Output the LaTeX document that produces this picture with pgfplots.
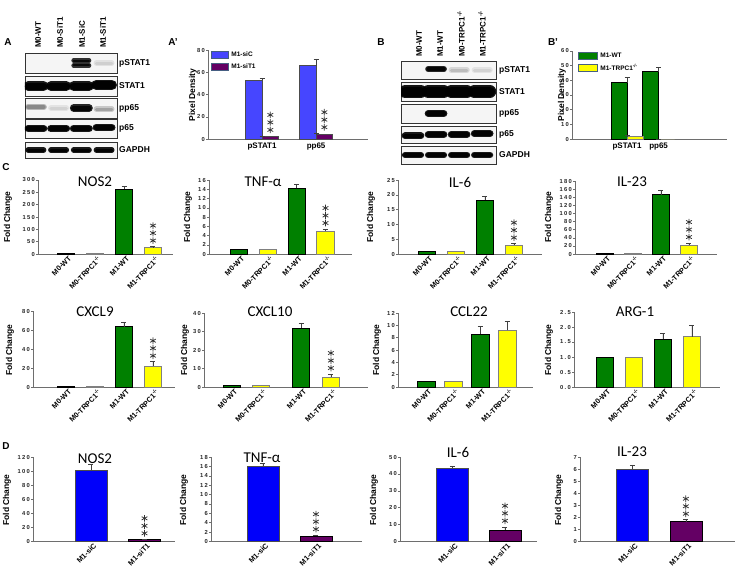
\documentclass[border=0pt]{standalone}
\usepackage{fontspec}
\setmainfont{Liberation Sans}
\newfontfamily\calib{Carlito}
\newfontfamily\tkf[LetterSpace=22]{Liberation Sans}
\usepackage{pgfplots}
\pgfplotsset{compat=1.18}
\definecolor{cgreen}{RGB}{0,128,0}
\definecolor{cyellow}{RGB}{255,255,0}
\definecolor{cblue}{RGB}{0,0,250}
\definecolor{cblueA}{RGB}{70,70,255}
\definecolor{cpurple}{RGB}{100,0,100}
\definecolor{axgray}{RGB}{110,110,110}
\definecolor{lgframe}{RGB}{70,95,130}
\pgfplotsset{
  base/.style={scale only axis, anchor=south west, axis lines*=left,
    axis line style={axgray, line width=0.7pt}, ymin=0,
    tick align=outside, major tick length=2pt,
    xtick style={draw=none}, ytick style={axgray, line width=0.5pt},
    yticklabel style={font=\tkf\bfseries\fontsize{5.8}{6}\selectfont, inner sep=1pt, text=black!85},
    /pgf/number format/assume math mode=true,
    xticklabel style={inner sep=1pt, font=\bfseries\fontsize{7.3}{8}\selectfont},
    clip=false},
  rot/.style={xticklabel style={rotate=45, anchor=north east, xshift=3pt}},
  catC/.style={base, rot, xtick={1,2,3,4},
    xticklabels={M0-WT, M0-TRPC1\textsuperscript{-/-}, M1-WT, M1-TRPC1\textsuperscript{-/-}}},
  catD/.style={base, rot, height=84.5pt, xtick={1,2}, xticklabels={M1-siC,M1-siT1}},
  eb/.style={/pgfplots/error bars/y dir=plus, /pgfplots/error bars/y explicit,
    /pgfplots/error bars/error bar style={black!75, line width=0.6pt},
    /pgfplots/error bars/error mark options={black!75, rotate=90, mark size=2.5pt, line width=0.6pt}},
  barC/.style={ybar, bar width=17.5pt, bar shift=0pt},
  barD/.style={ybar, bar width=32pt, bar shift=0pt},
  gr/.style={fill=cgreen, draw=black, line width=0.6pt},
  ye/.style={fill=cyellow, draw=gray, line width=0.6pt},
  bl/.style={fill=cblue, draw=gray!60!black, line width=0.6pt},
  pu/.style={fill=cpurple, draw=black, line width=0.6pt},
  blot/.style={scale only axis, anchor=south west, ymin=0, ymax=1, ticks=none,
    axis line style={black!80, line width=0.8pt}, axis background/.style={fill=gray!8}},
  blotA/.style={blot, width=92pt, xmin=0.52, xmax=4.57},
  blotB/.style={blot, width=95pt, xmin=0.48, xmax=4.6},
  st/.style={only marks, mark=asterisk, mark size=3.3pt, color=black!80, line width=0.75pt, forget plot},
}
% significance stars drawn as pgfplots asterisk marks above the error bar
\newcommand\stars[3][0pt]{%
  \addplot[st, mark options={xshift=#1, yshift=6pt}] coordinates {(#2,#3)};
  \addplot[st, mark options={xshift=#1, yshift=13.5pt}] coordinates {(#2,#3)};
  \addplot[st, mark options={xshift=#1, yshift=21pt}] coordinates {(#2,#3)};}
\newcommand\band[5]{%
  \addplot[black, line width=#4+2.5pt, draw opacity=#5, line cap=round, forget plot] coordinates {(#1,#3) (#2,#3)};
  \addplot[black, line width=#4, draw opacity=#5, line cap=round, forget plot] coordinates {(#1,#3) (#2,#3)};}
\tikzset{
  ttl/.style={font=\calib\fontsize{15}{16}\selectfont, anchor=center, inner sep=0pt},
  ylab/.style={rotate=90, font=\bfseries\fontsize{8.5}{9}\selectfont, anchor=center, inner sep=0pt},
  plab/.style={font=\bfseries\fontsize{10}{11}\selectfont, anchor=center, inner sep=0pt},
  rlab/.style={font=\bfseries\fontsize{8.5}{9}\selectfont, anchor=west, inner sep=0pt},
  llab/.style={font=\bfseries\fontsize{8}{9}\selectfont, rotate=90, anchor=west, inner sep=0pt},
}
\begin{document}
\begin{tikzpicture}
\useasboundingbox (0pt,0pt) rectangle (739pt,-574pt);
% ---------------- panel letters
\node[plab] at (8pt,-42pt) {A};
\node[plab] at (173pt,-42pt) {A’};
\node[plab] at (381pt,-42pt) {B};
\node[plab] at (553pt,-42pt) {B’};
\node[plab] at (6pt,-167pt) {C};
\node[plab] at (6pt,-446pt) {D};
% ---------------- blot A
\node[llab] at (38pt,-48pt) {M0-WT};
\node[llab] at (60pt,-48pt) {M0-SiT1};
\node[llab] at (82pt,-48pt) {M1-SiC};
\node[llab] at (103pt,-48pt) {M1-SiT1};
\begin{axis}[blotA, at={(25pt,-73pt)}, height=20pt]
\band{2.66}{3.34}{0.38}{2pt}{0.8}
\band{2.66}{3.34}{0.62}{2pt}{0.8}
\band{3.66}{4.34}{0.5}{3pt}{0.08}
\end{axis}
\begin{axis}[blotA, at={(25pt,-96pt)}, height=20pt]
\band{0.66}{1.34}{0.5}{7pt}{0.9}
\band{1.66}{2.34}{0.5}{7pt}{0.9}
\band{2.66}{3.34}{0.5}{7pt}{0.9}
\band{3.66}{4.34}{0.55}{8pt}{0.9}
\end{axis}
\begin{axis}[blotA, at={(25pt,-118pt)}, height=20pt]
\band{0.66}{1.34}{0.55}{4pt}{0.25}
\band{1.66}{2.34}{0.5}{3pt}{0.07}
\band{2.66}{3.34}{0.5}{5pt}{0.85}
\band{3.66}{4.34}{0.45}{3pt}{0.18}
\end{axis}
\begin{axis}[blotA, at={(25pt,-138pt)}, height=19pt]
\band{0.66}{1.34}{0.5}{5pt}{0.9}
\band{1.66}{2.34}{0.5}{5pt}{0.9}
\band{2.66}{3.34}{0.5}{5pt}{0.9}
\band{3.66}{4.34}{0.55}{5pt}{0.9}
\end{axis}
\begin{axis}[blotA, at={(25pt,-158pt)}, height=16pt]
\band{0.66}{1.34}{0.5}{3pt}{0.9}
\band{1.66}{2.34}{0.5}{3pt}{0.9}
\band{2.66}{3.34}{0.5}{3pt}{0.9}
\band{3.66}{4.34}{0.5}{3pt}{0.9}
\end{axis}
\node[rlab] at (119pt,-63pt) {pSTAT1};
\node[rlab] at (119pt,-86pt) {STAT1};
\node[rlab] at (119pt,-108pt) {pp65};
\node[rlab] at (119pt,-128.5pt) {p65};
\node[rlab] at (119pt,-150pt) {GAPDH};
% ---------------- blot B
\node[llab] at (419pt,-57pt) {M0-WT};
\node[llab] at (440pt,-57pt) {M1-WT};
\node[llab] at (461pt,-57pt) {M0-TRPC1\textsuperscript{-/-}};
\node[llab] at (482pt,-57pt) {M1-TRPC1\textsuperscript{-/-}};
\begin{axis}[blotB, at={(401pt,-79pt)}, height=18pt]
\band{1.66}{2.34}{0.55}{3.5pt}{0.85}
\band{2.66}{3.34}{0.5}{3pt}{0.12}
\band{3.66}{4.34}{0.5}{3pt}{0.07}
\end{axis}
\begin{axis}[blotB, at={(401pt,-101pt)}, height=19pt]
\band{0.66}{1.34}{0.5}{10pt}{0.92}
\band{1.66}{2.34}{0.5}{10pt}{0.92}
\band{2.66}{3.34}{0.5}{10pt}{0.92}
\band{3.66}{4.34}{0.5}{10pt}{0.92}
\end{axis}
\begin{axis}[blotB, at={(401pt,-123pt)}, height=19pt]
\band{1.66}{2.34}{0.5}{4.5pt}{0.9}
\end{axis}
\begin{axis}[blotB, at={(401pt,-143pt)}, height=17pt]
\band{0.66}{1.34}{0.42}{4.5pt}{0.9}
\band{1.66}{2.34}{0.5}{4.5pt}{0.9}
\band{2.66}{3.34}{0.5}{4.5pt}{0.9}
\band{3.66}{4.34}{0.55}{4.5pt}{0.9}
\end{axis}
\begin{axis}[blotB, at={(401pt,-164pt)}, height=18pt]
\band{0.66}{1.34}{0.5}{4pt}{0.9}
\band{1.66}{2.34}{0.5}{4pt}{0.9}
\band{2.66}{3.34}{0.5}{4pt}{0.9}
\band{3.66}{4.34}{0.5}{4pt}{0.9}
\end{axis}
\node[rlab] at (499pt,-70pt) {pSTAT1};
\node[rlab] at (499pt,-91.5pt) {STAT1};
\node[rlab] at (499pt,-113.5pt) {pp65};
\node[rlab] at (499pt,-134.5pt) {p65};
\node[rlab] at (499pt,-155pt) {GAPDH};
% ---------------- A'
\node[ylab] at (193pt,-95pt) {Pixel Density};
\begin{axis}[base, at={(208pt,-139pt)}, width=160pt, height=89pt, xmin=0, xmax=2.96,
  ymax=80, ytick={0,20,...,80}, xtick={1,2}, xticklabels={pSTAT1,pp65},
  xticklabel style={anchor=north, inner sep=2pt, font=\bfseries\fontsize{8}{9}\selectfont},
  legend style={at={(axis description cs:0.02,1.0)}, anchor=north west, draw=none, fill=none,
    inner sep=0pt, font=\bfseries\fontsize{6.5}{7}\selectfont, legend cell align=left, row sep=1.5pt},
  legend image code/.code={\draw[#1, draw=lgframe, line width=1pt] (0pt,-3pt) rectangle (17pt,3.5pt);}]
\addplot[ybar, bar width=16.5pt, bar shift=-8.25pt, fill=cblueA, draw=black!70, line width=0.6pt, eb]
  coordinates {(1,53) +- (0,1.5) (2,66) +- (0,6)};
\addplot[ybar, bar width=16.5pt, bar shift=8.25pt, fill=cpurple, draw=black!70, line width=0.6pt, eb]
  coordinates {(1,2.3) +- (0,0.5) (2,4) +- (0,1.2)};
\legend{M1-siC, M1-siT1}
\stars[8.25pt]{1}{2.8}
\stars[8.25pt]{2}{5.2}
\end{axis}
% ---------------- B'
\node[ylab] at (562pt,-95pt) {Pixel Density};
\begin{axis}[base, at={(572pt,-139pt)}, width=155pt, height=88pt, xmin=-0.746, xmax=4.17,
  ymax=60, ytick={0,10,...,60}, xtick={1,2}, xticklabels={pSTAT1,pp65},
  xticklabel style={anchor=north, inner sep=2pt, font=\bfseries\fontsize{8}{9}\selectfont},
  legend style={at={(axis description cs:0.04,1.0)}, anchor=north west, draw=none, fill=none,
    inner sep=0pt, font=\bfseries\fontsize{6.5}{7}\selectfont, legend cell align=left, row sep=1.5pt},
  legend image code/.code={\draw[#1, draw=lgframe, line width=1pt] (0pt,-3.5pt) rectangle (19pt,4pt);}]
\addplot[ybar, bar width=16pt, bar shift=-8pt, gr, eb]
  coordinates {(1,38.5) +- (0,3.5) (2,46) +- (0,3)};
\addplot[ybar, bar width=16pt, bar shift=8pt, ye, eb]
  coordinates {(1,1.8) +- (0,0.4) (2,0) +- (0,0)};
\legend{M1-WT, M1-TRPC1\textsuperscript{-/-}}
\end{axis}
% ---------------- C top row
\node[ylab] at (8pt,-217pt) {Fold Change};
\node[ttl] at (95pt,-182pt) {NOS2};
\begin{axis}[catC, at={(38pt,-254pt)}, width=135pt, height=74pt, xmin=0.034, xmax=4.69,
  ymax=300, ytick={0,50,...,300}]
\addplot[barC, gr] coordinates {(1,1)};
\addplot[barC, ye] coordinates {(2,1)};
\addplot[barC, gr, eb] coordinates {(3,263) +- (0,12)};
\addplot[barC, ye, eb] coordinates {(4,27) +- (0,3)};
\stars{4}{30}
\end{axis}
\node[ylab] at (188pt,-217pt) {Fold Change};
\node[ttl] at (263pt,-182pt) {TNF-α};
\begin{axis}[catC, at={(209pt,-254pt)}, width=143pt, height=74pt, xmin=-0.04, xmax=4.92,
  ymax=16, ytick={0,2,...,16}]
\addplot[barC, gr] coordinates {(1,1)};
\addplot[barC, ye] coordinates {(2,1)};
\addplot[barC, gr, eb] coordinates {(3,14.2) +- (0,0.8)};
\addplot[barC, ye, eb] coordinates {(4,4.9) +- (0,0.5)};
\stars{4}{5.4}
\end{axis}
\node[ylab] at (371pt,-217pt) {Fold Change};
\node[ttl] at (460pt,-182pt) {IL-6};
\begin{axis}[catC, at={(398pt,-254pt)}, width=144pt, height=74pt, xmin=0, xmax=4.97,
  ymax=25, ytick={0,5,...,25}]
\addplot[barC, gr] coordinates {(1,1)};
\addplot[barC, ye] coordinates {(2,1)};
\addplot[barC, gr, eb] coordinates {(3,18.3) +- (0,1.1)};
\addplot[barC, ye, eb] coordinates {(4,3.0) +- (0,0.5)};
\stars{4}{3.5}
\end{axis}
\node[ylab] at (549pt,-217pt) {Fold Change};
\node[ttl] at (632pt,-182pt) {IL-23};
\begin{axis}[catC, at={(575pt,-254pt)}, width=142pt, height=73pt, xmin=-0.07, xmax=5.0,
  ymax=180, ytick={0,20,...,180}]
\addplot[barC, gr] coordinates {(1,1)};
\addplot[barC, ye] coordinates {(2,1)};
\addplot[barC, gr, eb] coordinates {(3,146) +- (0,12)};
\addplot[barC, ye, eb] coordinates {(4,22) +- (0,5)};
\stars{4}{27}
\end{axis}
% ---------------- C bottom row
\node[ylab] at (10pt,-350pt) {Fold Change};
\node[ttl] at (95pt,-312pt) {CXCL9};
\begin{axis}[catC, at={(33pt,-387pt)}, width=142pt, height=76pt, xmin=-0.14, xmax=4.76,
  ymax=80, ytick={0,20,...,80}]
\addplot[barC, gr] coordinates {(1,1)};
\addplot[barC, ye] coordinates {(2,1)};
\addplot[barC, gr, eb] coordinates {(3,63.5) +- (0,5)};
\addplot[barC, ye, eb] coordinates {(4,22) +- (0,4.6)};
\stars{4}{26.6}
\end{axis}
\node[ylab] at (185pt,-350pt) {Fold Change};
\node[ttl] at (270pt,-312pt) {CXCL10};
\begin{axis}[catC, at={(204pt,-387pt)}, width=164pt, height=74pt, xmin=0.034, xmax=5.69,
  ymax=40, ytick={0,10,...,40}, xtick={1,2,3.38,4.41}]
\addplot[barC, gr] coordinates {(1,0.8)};
\addplot[barC, ye] coordinates {(2,0.8)};
\addplot[barC, gr, eb] coordinates {(3.38,32) +- (0,2.7)};
\addplot[barC, ye, eb] coordinates {(4.41,5.2) +- (0,1.8)};
\stars{4.41}{7}
\end{axis}
\node[ylab] at (377pt,-350pt) {Fold Change};
\node[ttl] at (469pt,-312pt) {CCL22};
\begin{axis}[catC, at={(398pt,-387pt)}, width=135pt, height=74pt, xmin=-0.04, xmax=4.96,
  ymax=12, ytick={0,2,...,12}]
\addplot[barC, gr] coordinates {(1,1)};
\addplot[barC, ye] coordinates {(2,1)};
\addplot[barC, gr, eb] coordinates {(3,8.6) +- (0,1.2)};
\addplot[barC, ye, eb] coordinates {(4,9.2) +- (0,1.5)};
\end{axis}
\node[ylab] at (549pt,-350pt) {Fold Change};
\node[ttl] at (635pt,-312pt) {ARG-1};
\begin{axis}[catC, at={(574pt,-387pt)}, width=146pt, height=75pt, xmin=-0.07, xmax=4.97,
  ymax=2.5, ytick={0,0.5,...,2.5},
  yticklabel style={/pgf/number format/.cd, fixed, fixed zerofill, precision=1}]
\addplot[barC, gr] coordinates {(1,1)};
\addplot[barC, ye] coordinates {(2,1)};
\addplot[barC, gr, eb] coordinates {(3,1.6) +- (0,0.2)};
\addplot[barC, ye, eb] coordinates {(4,1.68) +- (0,0.37)};
\end{axis}
% ---------------- D row
\node[ylab] at (7pt,-500pt) {Fold Change};
\node[ttl] at (95pt,-459pt) {NOS2};
\begin{axis}[catD, at={(33pt,-541.5pt)}, width=142pt, xmin=-0.084, xmax=2.57,
  ymax=120, ytick={0,20,...,120}]
\addplot[barD, bl, eb] coordinates {(1,101.5) +- (0,8)};
\addplot[barD, pu, eb] coordinates {(2,2.5) +- (0,0.6)};
\stars{2}{3.1}
\end{axis}
\node[ylab] at (184pt,-500pt) {Fold Change};
\node[ttl] at (262pt,-458pt) {TNF-α};
\begin{axis}[catD, at={(211pt,-541.5pt)}, width=151pt, xmin=0.019, xmax=2.87,
  ymax=18, ytick={0,2,...,18}]
\addplot[barD, bl, eb] coordinates {(1,16.05) +- (0,0.55)};
\addplot[barD, pu, eb] coordinates {(2,1.15) +- (0,0.2)};
\stars{2}{1.35}
\end{axis}
\node[ylab] at (374pt,-500pt) {Fold Change};
\node[ttl] at (458pt,-452pt) {IL-6};
\begin{axis}[catD, at={(400pt,-541.5pt)}, width=137pt, xmin=0, xmax=2.61,
  ymax=50, ytick={0,10,...,50}]
\addplot[barD, bl, eb] coordinates {(1,43.5) +- (0,1.2)};
\addplot[barD, pu, eb] coordinates {(2,6.7) +- (0,2.0)};
\stars{2}{8.7}
\end{axis}
\node[ylab] at (559pt,-500pt) {Fold Change};
\node[ttl] at (632pt,-452pt) {IL-23};
\begin{axis}[catD, at={(580pt,-541.5pt)}, width=155pt, xmin=0.019, xmax=2.92,
  ymax=7, ytick={0,1,...,7}]
\addplot[barD, bl, eb] coordinates {(1,6.0) +- (0,0.35)};
\addplot[barD, pu, eb] coordinates {(2,1.65) +- (0,0.15)};
\stars{2}{1.8}
\end{axis}
\end{tikzpicture}
\end{document}
